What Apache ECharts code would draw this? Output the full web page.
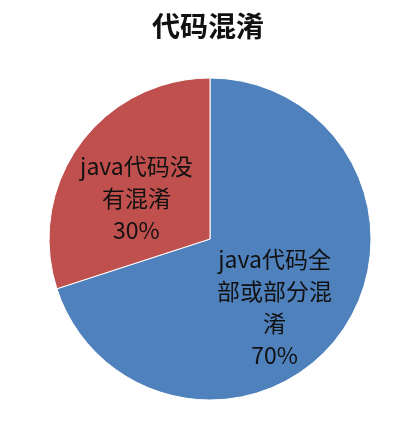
<!DOCTYPE html>
<html>
<head>
<meta charset="utf-8">
<script src="https://cdn.jsdelivr.net/npm/echarts@6/dist/echarts.min.js"></script>
<style>
  html, body { margin: 0; padding: 0; background: #ffffff; }
  #chart { width: 403px; height: 425px; }
</style>
</head>
<body>
<div id="chart"></div>
<script>
// Share of Java code that is obfuscated
const titleText = '代码混淆';
const categories = ['java代码全\n部或部分混\n淆', 'java代码没\n有混淆'];
const values = [70, 30];
const colors = ['#4F81BD', '#C0504D'];
const labelOffsets = [[-3, 19], [-6, 8]];

const chart = echarts.init(document.getElementById('chart'), null, { renderer: 'canvas' });

const data = categories.map((name, i) => ({
  name: name,
  value: values[i],
  itemStyle: { color: colors[i] },
  label: { offset: labelOffsets[i] }
}));

chart.setOption({
  backgroundColor: '#ffffff',
  animation: false,
  title: {
    text: titleText,
    left: 147,
    top: 7,
    textStyle: {
      fontFamily: '"Noto Sans CJK SC", sans-serif',
      fontWeight: 'bold',
      fontSize: 28,
      color: '#111111'
    }
  },
  series: [{
    type: 'pie',
    center: [210, 239],
    radius: 161,
    startAngle: 90,
    clockwise: true,
    avoidLabelOverlap: false,
    itemStyle: { borderColor: '#ffffff', borderWidth: 1 },
    label: {
      show: true,
      position: 'inside',
      formatter: p => p.name + '\n' + p.value + '%',
      fontFamily: '"Noto Sans CJK SC", sans-serif',
      fontSize: 23,
      lineHeight: 32,
      color: '#111111',
      align: 'center'
    },
    labelLine: { show: false },
    emphasis: { disabled: true },
    data: data
  }]
});
</script>
</body>
</html>
